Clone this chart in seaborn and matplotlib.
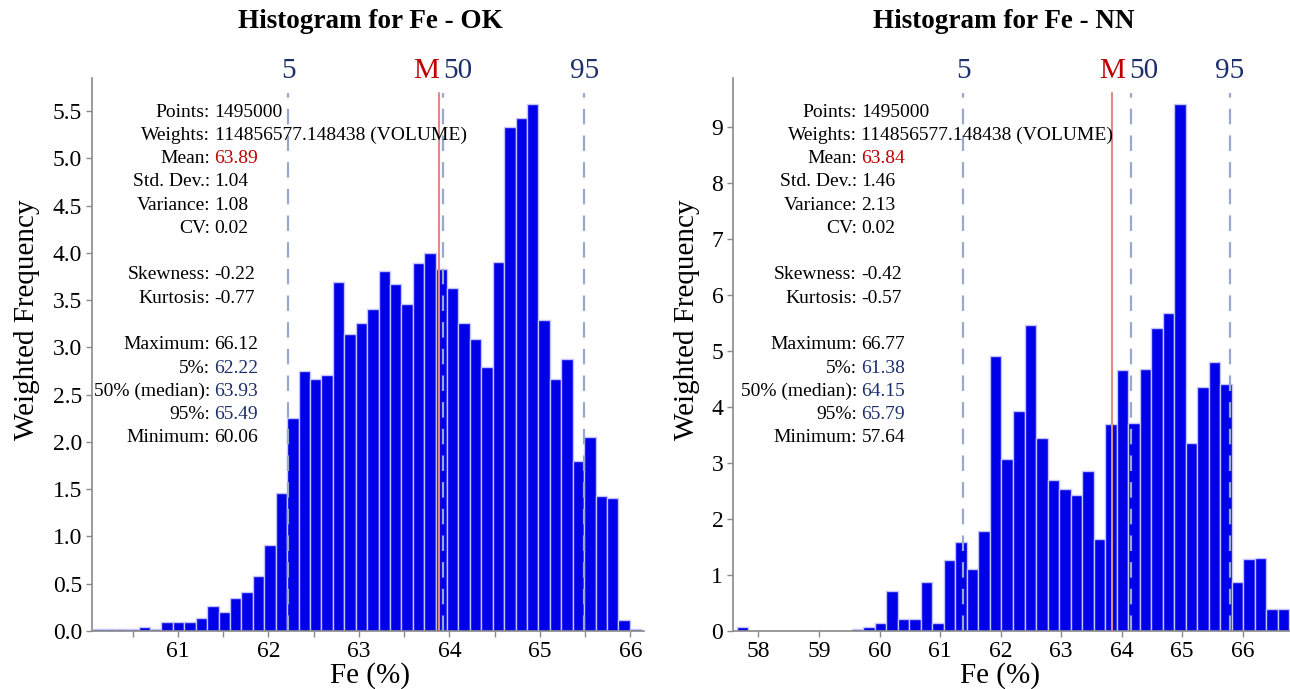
import numpy as np
import pandas as pd
import matplotlib
matplotlib.use("Agg")
import matplotlib.pyplot as plt
import seaborn as sns

# bar heights (48 equal bins between min and max)
ok_heights = [0.02, 0.02, 0.02, 0.02, 0.04, 0.02, 0.09, 0.10, 0.10, 0.14,
              0.26, 0.20, 0.35, 0.41, 0.58, 0.91, 1.46, 2.25, 2.75, 2.67,
              2.71, 3.69, 3.14, 3.26, 3.41, 3.81, 3.67, 3.46, 3.89, 4.00,
              3.83, 3.63, 3.26, 3.09, 2.79, 3.90, 5.33, 5.43, 5.57, 3.29,
              2.67, 2.88, 1.80, 2.05, 1.43, 1.41, 0.12, 0.02]
nn_heights = [0.08, 0, 0, 0, 0, 0, 0, 0, 0, 0,
              0.03, 0.08, 0.15, 0.71, 0.21, 0.21, 0.87, 0.15, 1.27, 1.58,
              1.11, 1.79, 4.91, 3.07, 3.93, 5.46, 3.45, 2.70, 2.54, 2.43,
              2.86, 1.65, 3.70, 4.65, 3.72, 4.67, 5.41, 5.67, 9.40, 3.36,
              4.35, 4.80, 4.41, 0.87, 1.28, 1.30, 0.39, 0.39]

ok_stats = {"min": 60.06, "max": 66.12, "mean": 63.89, "p5": 62.22, "p50": 63.93, "p95": 65.49}
nn_stats = {"min": 57.64, "max": 66.77, "mean": 63.84, "p5": 61.38, "p50": 64.15, "p95": 65.79}

ok_rows = [("Points", "1495000"), ("Weights", "114856577.148438 (VOLUME)"),
           ("Mean", "63.89"), ("Std. Dev.", "1.04"), ("Variance", "1.08"), ("CV", "0.02"),
           None, ("Skewness", "-0.22"), ("Kurtosis", "-0.77"), None,
           ("Maximum", "66.12"), ("5%", "62.22"), ("50% (median)", "63.93"),
           ("95%", "65.49"), ("Minimum", "60.06")]
nn_rows = [("Points", "1495000"), ("Weights", "114856577.148438 (VOLUME)"),
           ("Mean", "63.84"), ("Std. Dev.", "1.46"), ("Variance", "2.13"), ("CV", "0.02"),
           None, ("Skewness", "-0.42"), ("Kurtosis", "-0.57"), None,
           ("Maximum", "66.77"), ("5%", "61.38"), ("50% (median)", "64.15"),
           ("95%", "65.79"), ("Minimum", "57.64")]

sns.set_theme(style="white")
plt.rcParams["font.family"] = ["Liberation Serif", "DejaVu Serif"]
plt.rcParams["text.color"] = "black"
plt.rcParams["xtick.color"] = "black"
plt.rcParams["ytick.color"] = "black"

NAVY = "#1c2f6b"
RED = "#c00000"
BAR = "#0000e8"
EDGE = "#c4c4ff"
DASH = "#98aacb"
MEANC = "#e08a85"
GREY = "#8a8a8a"

fig = plt.figure(figsize=(12.9, 6.89), dpi=100)


def draw(ax, heights, st, rows, xlim, ylim, xticks, xminor, yticks, ylabels,
         colon_x, title, title_x, ylab_x, xlab_x, m_shift, fifty_shift):
    heights = np.array(heights, dtype=float)
    nb = len(heights)
    edges = np.linspace(st["min"], st["max"], nb + 1)
    centers = (edges[:-1] + edges[1:]) / 2
    df = pd.DataFrame({"fe": centers, "w": heights})
    df = df[df["w"] > 0]
    sns.histplot(data=df, x="fe", weights="w", bins=nb, binrange=(st["min"], st["max"]),
                 ax=ax, color=BAR, alpha=1, edgecolor=EDGE, linewidth=1.0)
    ax.set_xlim(*xlim)
    ax.set_ylim(*ylim)
    top = 0.972
    ax.axvline(st["p5"], ymax=top, color=DASH, lw=1.6, dashes=(7, 5))
    ax.axvline(st["p95"], ymax=top, color=DASH, lw=1.6, dashes=(7, 5))
    ax.axvline(st["p50"], ymax=top, color=DASH, lw=1.6, dashes=(7, 5))
    ax.axvline(st["mean"], ymax=top, color=MEANC, lw=1.5)

    tr = ax.get_xaxis_transform()
    ax.text(st["p5"], 1.0, "5", transform=tr, ha="center", va="baseline", color=NAVY, fontsize=21)
    ax.text(st["p95"], 1.0, "95", transform=tr, ha="center", va="baseline", color=NAVY, fontsize=21)
    ax.text(st["mean"] + m_shift, 1.0, "M", transform=tr, ha="right", va="baseline", color=RED, fontsize=21)
    ax.text(st["p50"] + fifty_shift, 1.0, "50", transform=tr, ha="left", va="baseline", color=NAVY, fontsize=21)

    # statistics block
    y0 = 0.9385
    step = 0.0421
    for i, r in enumerate(rows):
        if r is None:
            continue
        name, val = r
        y = y0 - i * step
        vc = "black"
        if name == "Mean":
            vc = RED
        elif "%" in name:
            vc = NAVY
        ax.text(colon_x, y, name + ":", transform=ax.transAxes, ha="right", va="center",
                fontsize=14, color="black")
        ax.text(colon_x + 0.008, y, val, transform=ax.transAxes, ha="left", va="center",
                fontsize=14, color=vc)

    ax.set_xticks(xticks)
    ax.set_xticklabels([str(t) for t in xticks])
    if xminor is not None:
        ax.set_xticks(xminor, minor=True)
    ax.set_yticks(yticks)
    ax.set_yticklabels(ylabels)
    ax.tick_params(axis="both", which="both", direction="out", length=4, width=1,
                   color=GREY, labelsize=17, pad=3, bottom=True, left=True)
    ax.tick_params(axis="x", which="minor", length=4)
    for s in ["top", "right"]:
        ax.spines[s].set_visible(False)
    for s in ["left", "bottom"]:
        ax.spines[s].set_color(GREY)
        ax.spines[s].set_linewidth(1.2)
    ax.set_xlabel("")
    ax.set_ylabel("")
    ax.grid(False)

    fig.text(title_x, 1 - 22 / 689, title, ha="center", va="center", fontsize=19.5, fontweight="bold")
    fig.text(ylab_x, 1 - 320 / 689, "Weighted Frequency", ha="center", va="center",
             rotation=90, fontsize=21)
    fig.text(xlab_x, 1 - 676 / 689, "Fe (%)", ha="center", va="center", fontsize=21)


ax1 = fig.add_axes([92 / 1290, 58 / 689, 552 / 1290, 553 / 689])
ok_yt = np.arange(0, 5.51, 0.5)
draw(ax1, ok_heights, ok_stats, ok_rows, (60.05, 66.15), (0, 5.85),
     [61, 62, 63, 64, 65, 66], np.arange(60.5, 66.1, 0.5),
     ok_yt, ["%.1f" % v for v in ok_yt], 0.214,
     "Histogram for Fe - OK", 370 / 1290, 27 / 1290, 370 / 1290, 0.0, 0.0)

ax2 = fig.add_axes([733 / 1290, 58 / 689, 557 / 1290, 553 / 689])
nn_yt = np.arange(0, 10, 1)
draw(ax2, nn_heights, nn_stats, nn_rows, (57.58, 66.78), (0, 9.87),
     [58, 59, 60, 61, 62, 63, 64, 65, 66], None,
     nn_yt, [str(v) for v in nn_yt], 0.2226,
     "Histogram for Fe - NN", 1004 / 1290, 687 / 1290, 1000 / 1290, 0.22, -0.03)

fig.savefig("out.png", dpi=100, facecolor="white")
